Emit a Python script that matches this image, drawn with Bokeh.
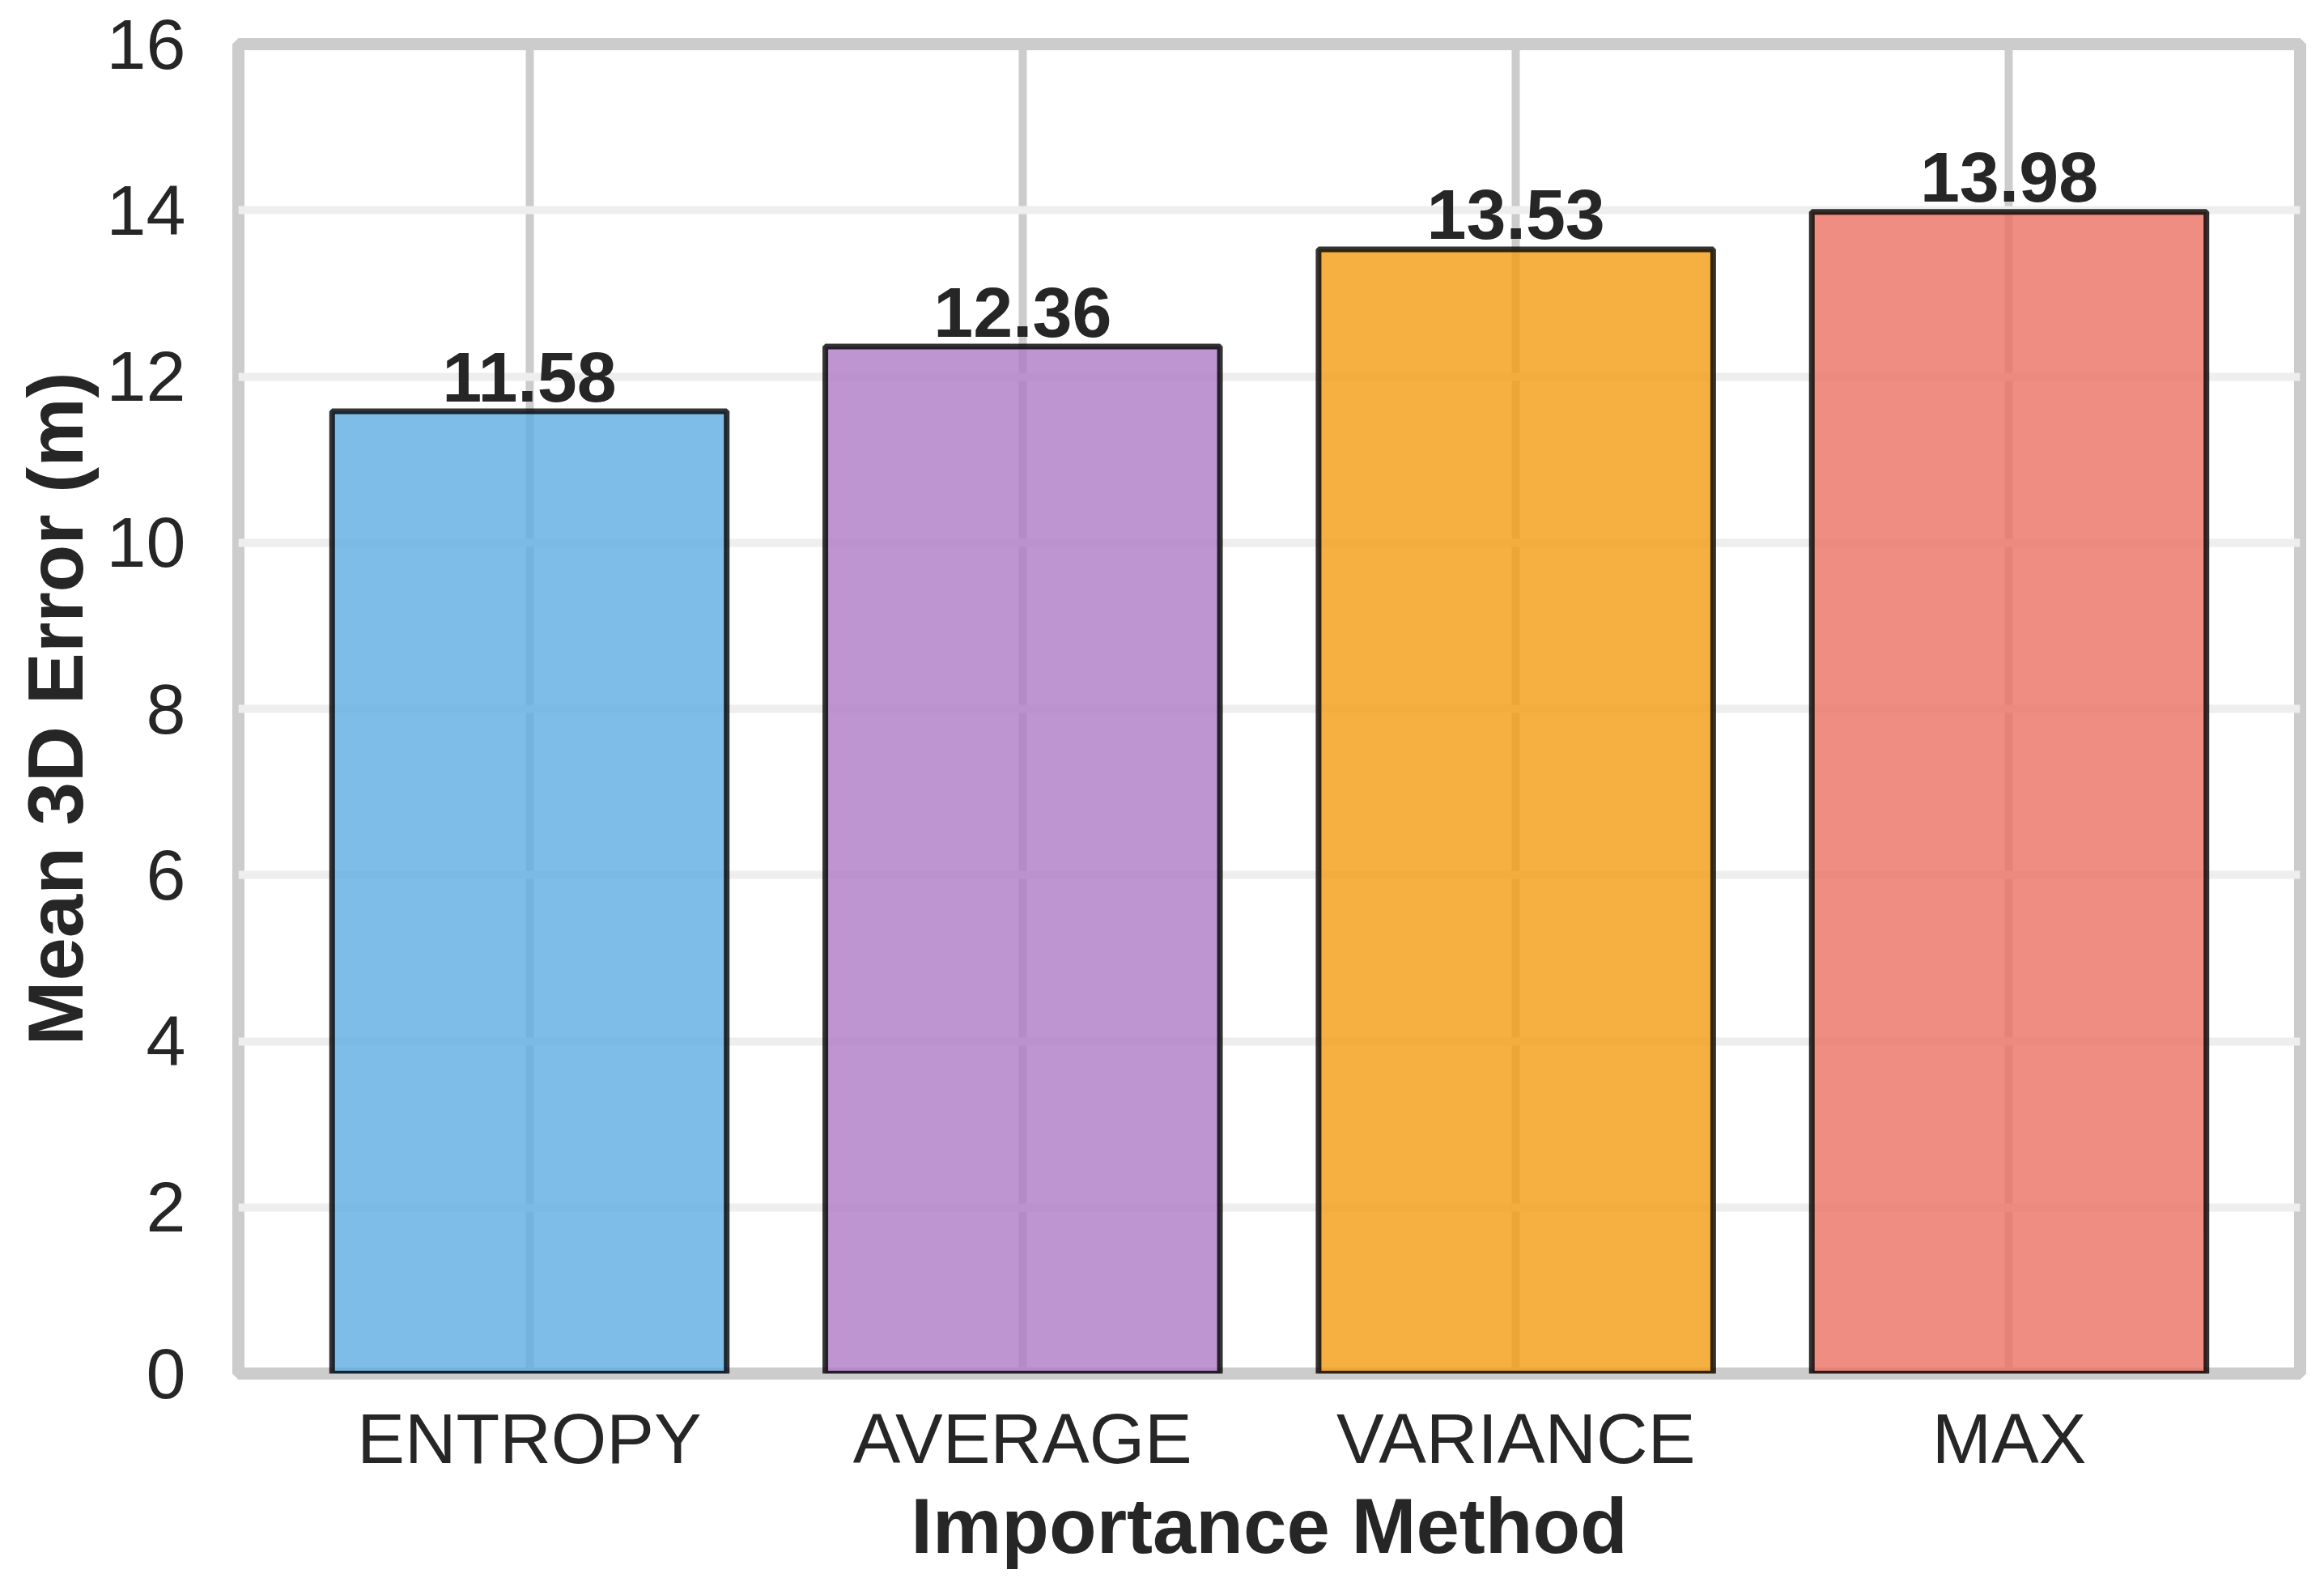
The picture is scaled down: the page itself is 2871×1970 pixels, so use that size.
from bokeh.plotting import figure
from bokeh.models import Range1d, FixedTicker, ColumnDataSource
from bokeh.embed import file_html
from bokeh.resources import INLINE
from bokeh.core.properties import value

# ---- data ----
methods = ["ENTROPY", "AVERAGE", "VARIANCE", "MAX"]
mean_errors = [11.58, 12.36, 13.53, 13.98]
bar_colors = ["#5DADE2", "#AF7AC5", "#F39C12", "#EC7063"]
y_ticks = [0, 2, 4, 6, 8, 10, 12, 14, 16]

positions = list(range(len(methods)))
labels = [f"{v:.2f}" for v in mean_errors]
src = ColumnDataSource(dict(x=positions, top=mean_errors, color=bar_colors, label=labels))

FONT = "Liberation Sans"
TXT = "#262626"
W, H = 2855, 1954

p = figure(width=W, height=H, output_backend="svg", toolbar_location=None, title=None,
           x_range=Range1d(-0.59, 3.59), y_range=Range1d(0, 16),
           min_border_left=294, min_border_right=14, min_border_top=54, min_border_bottom=258)
p.background_fill_color = "white"
p.border_fill_color = "white"
p.outline_line_color = "#CCCCCC"
p.outline_line_width = 15
p.outline_line_alpha = 1.0

# grids
p.xgrid.ticker = FixedTicker(ticks=positions)
p.xgrid.grid_line_color = "#CCCCCC"
p.xgrid.grid_line_width = 10
p.ygrid.ticker = FixedTicker(ticks=y_ticks)
p.ygrid.grid_line_color = "#EEEEEE"
p.ygrid.grid_line_width = 10

# axes
p.xaxis.ticker = FixedTicker(ticks=positions)
p.xaxis.major_label_overrides = {i: m for i, m in enumerate(methods)}
p.yaxis.ticker = FixedTicker(ticks=y_ticks)
for ax in (p.xaxis[0], p.yaxis[0]):
    ax.axis_line_color = None
    ax.major_tick_line_color = None
    ax.minor_tick_line_color = None
    ax.major_tick_out = 0
    ax.major_tick_in = 0
    ax.major_label_text_font = FONT
    ax.major_label_text_font_size = "88px"
    ax.major_label_text_color = TXT
    ax.axis_label_text_font = FONT
    ax.axis_label_text_font_size = "96px"
    ax.axis_label_text_font_style = "bold"
    ax.axis_label_text_color = TXT

p.xaxis.axis_label = "Importance Method"
p.yaxis.axis_label = "Mean 3D Error (m)"
p.xaxis.major_label_standoff = 30
p.xaxis.axis_label_standoff = 2
p.yaxis.major_label_standoff = 65
p.yaxis.axis_label_standoff = 7

# bars
p.vbar(x="x", top="top", bottom=0, width=0.8, source=src,
       fill_color="color", fill_alpha=0.8,
       line_color="black", line_alpha=0.8, line_width=7)

# value labels
p.text(x="x", y="top", text="label", source=src,
       text_align="center", text_baseline="alphabetic", y_offset=-43,
       text_font=value(FONT), text_font_size="88px", text_font_style="bold",
       text_color=TXT)

open("out.html", "w").write(file_html(p, INLINE))
